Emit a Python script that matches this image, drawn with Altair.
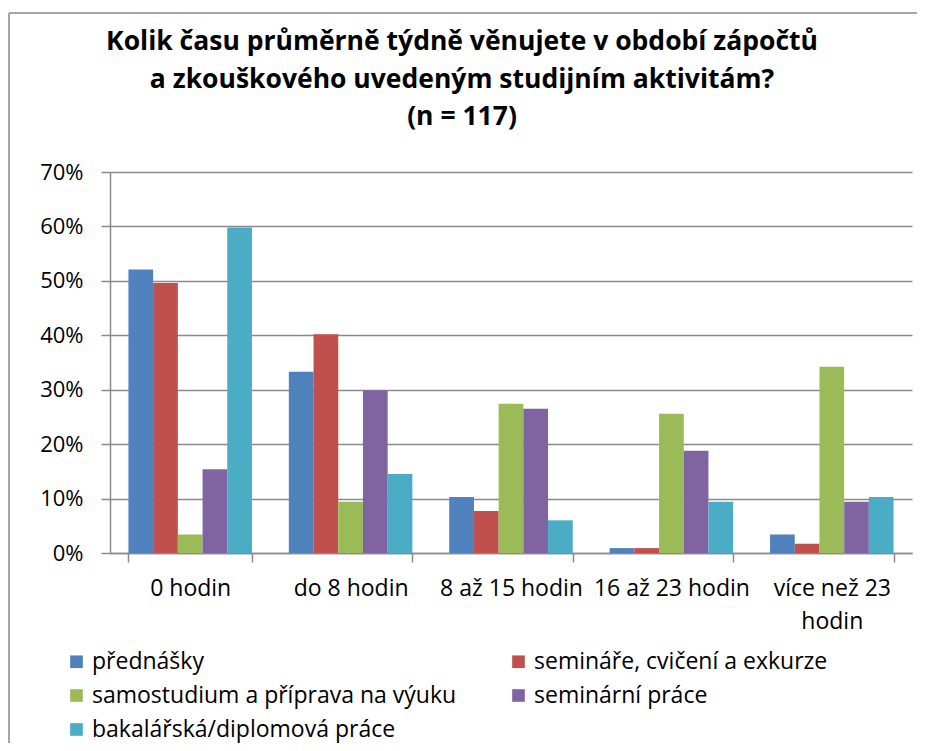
import altair as alt
import pandas as pd

categories = ["0 hodin", "do 8 hodin", "8 až 15 hodin", "16 až 23 hodin", "více než 23 hodin"]
series = [
    "přednášky",
    "semináře, cvičení a exkurze",
    "samostudium a příprava na výuku",
    "seminární práce",
    "bakalářská/diplomová práce",
]
prednasky = [52.1, 33.3, 10.3, 0.9, 3.4]
seminare = [49.6, 40.2, 7.7, 0.9, 1.7]
samostudium = [3.4, 9.4, 27.4, 25.6, 34.2]
seminarni = [15.4, 29.9, 26.5, 18.8, 9.4]
bakalarska = [59.8, 14.5, 6.0, 9.4, 10.3]
colors = ["#4F81BD", "#C0504D", "#9BBB59", "#8064A2", "#4BACC6"]
title_lines = [
    "Kolik času průměrně týdně věnujete v období zápočtů",
    "a zkouškového uvedeným studijním aktivitám?",
    "(n = 117)",
]

rows = []
for s, vals in zip(series, [prednasky, seminare, samostudium, seminarni, bakalarska]):
    for c, v in zip(categories, vals):
        rows.append({"category": c, "series": s, "value": v / 100})
df = pd.DataFrame(rows)

FONT = "Open Sans"
GRID = "#8a8a8a"

bars = alt.Chart(df).mark_bar().encode(
    x=alt.X(
        "category:N",
        sort=categories,
        title=None,
        scale=alt.Scale(paddingInner=0.23, paddingOuter=0.115),
        axis=alt.Axis(
            labelAngle=0,
            labelFont=FONT,
            labelFontSize=23,
            labelColor="#000000",
            labelPadding=15,
            labelLimit=400,
            labelLineHeight=33,
            labelExpr="datum.label == 'více než 23 hodin' ? ['více než 23', 'hodin'] : datum.label",
            tickBand="extent",
            tickSize=9,
            tickColor=GRID,
            tickWidth=1.5,
            domainColor=GRID,
            domainWidth=1.5,
            grid=False,
        ),
    ),
    xOffset=alt.XOffset("series:N", sort=series),
    y=alt.Y(
        "value:Q",
        title=None,
        scale=alt.Scale(domain=[0, 0.7], nice=False),
        axis=alt.Axis(
            values=[0, 0.1, 0.2, 0.3, 0.4, 0.5, 0.6, 0.7],
            format=".0%",
            labelFont=FONT,
            labelFontSize=22,
            labelColor="#000000",
            labelPadding=18,
            tickSize=9,
            tickColor=GRID,
            tickWidth=1.5,
            domainColor=GRID,
            domainWidth=1.5,
            grid=True,
            gridColor=GRID,
            gridWidth=1.5,
        ),
    ),
    color=alt.Color(
        "series:N",
        sort=series,
        scale=alt.Scale(domain=series, range=colors),
        legend=alt.Legend(
            title=None,
            orient="none",
            legendX=-45,
            legendY=478,
            direction="horizontal",
            columns=2,
            columnPadding=50,
            rowPadding=10,
            symbolType="square",
            symbolSize=160,
            symbolStrokeWidth=0,
            labelFont=FONT,
            labelFontSize=23,
            labelColor="#000000",
            labelOffset=4,
            labelLimit=500,
        ),
    ),
)

frame_df = pd.DataFrame({"a": [0]})
left_line = alt.Chart(frame_df).mark_rule(color="#a6a6a6", strokeWidth=2).encode(
    x=alt.value(-101), y=alt.value(-159), y2=alt.value(700)
)
top_line = alt.Chart(frame_df).mark_rule(color="#a6a6a6", strokeWidth=2).encode(
    x=alt.value(-101), x2=alt.value(900), y=alt.value(-159)
)
title_text = alt.Chart(frame_df).mark_text(
    text=title_lines,
    font=FONT,
    fontSize=26.5,
    fontWeight="bold",
    color="#000000",
    lineHeight=37.5,
    align="center",
    baseline="middle",
).encode(x=alt.value(352), y=alt.value(-130))

chart = alt.layer(left_line, top_line, title_text, bars).properties(
    width=802,
    height=381,
    autosize=alt.AutoSizeParams(type="none"),
    padding={"left": 102, "top": 164, "right": 5, "bottom": 190},
).configure_view(stroke=None)

chart.save("out.html", embed_options={"renderer": "svg", "actions": False})
